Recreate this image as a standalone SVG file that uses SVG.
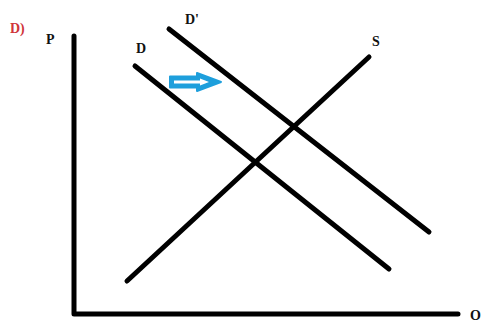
<svg xmlns="http://www.w3.org/2000/svg" width="484" height="323" viewBox="0 0 484 323">
<style>
.ln{stroke:#000;stroke-width:5;stroke-linecap:round;fill:none}
.lb{font-family:"Liberation Serif",serif;font-weight:bold;font-size:14px;fill:#111}
</style>
<rect width="484" height="323" fill="#fff"/>
<g id="title"><text x="10" y="33" class="lb" style="fill:#d0353a">D)</text></g>
<g id="axes">
<polyline class="ln" points="74,36 74,314 458,314" stroke-linejoin="round"/>
<text x="46" y="44" class="lb">P</text>
<text x="470" y="320" class="lb">O</text>
</g>
<g id="connectors">
<line id="D-curve" class="ln" x1="135" y1="66" x2="389" y2="269"/>
<line id="Dp-curve" class="ln" x1="169" y1="29" x2="429" y2="232"/>
<line id="S-curve" class="ln" x1="127" y1="281" x2="369" y2="57"/>
</g>
<g id="D"><text x="136" y="53" class="lb">D</text></g>
<g id="Dp"><text x="185" y="24" class="lb">D'</text></g>
<g id="S"><text x="372" y="46" class="lb">S</text></g>
<g id="shift-arrow">
<path d="M170,76.5 H197 V73 L221,82 L197,91 V87.5 H170 Z" fill="#1e9fdc" stroke="#1e9fdc" stroke-width="2" stroke-linejoin="round"/>
<path d="M174,80.5 H200 V78.5 L209,82 L200,85.5 V83.5 H174 Z" fill="#fff"/>
</g>
</svg>
